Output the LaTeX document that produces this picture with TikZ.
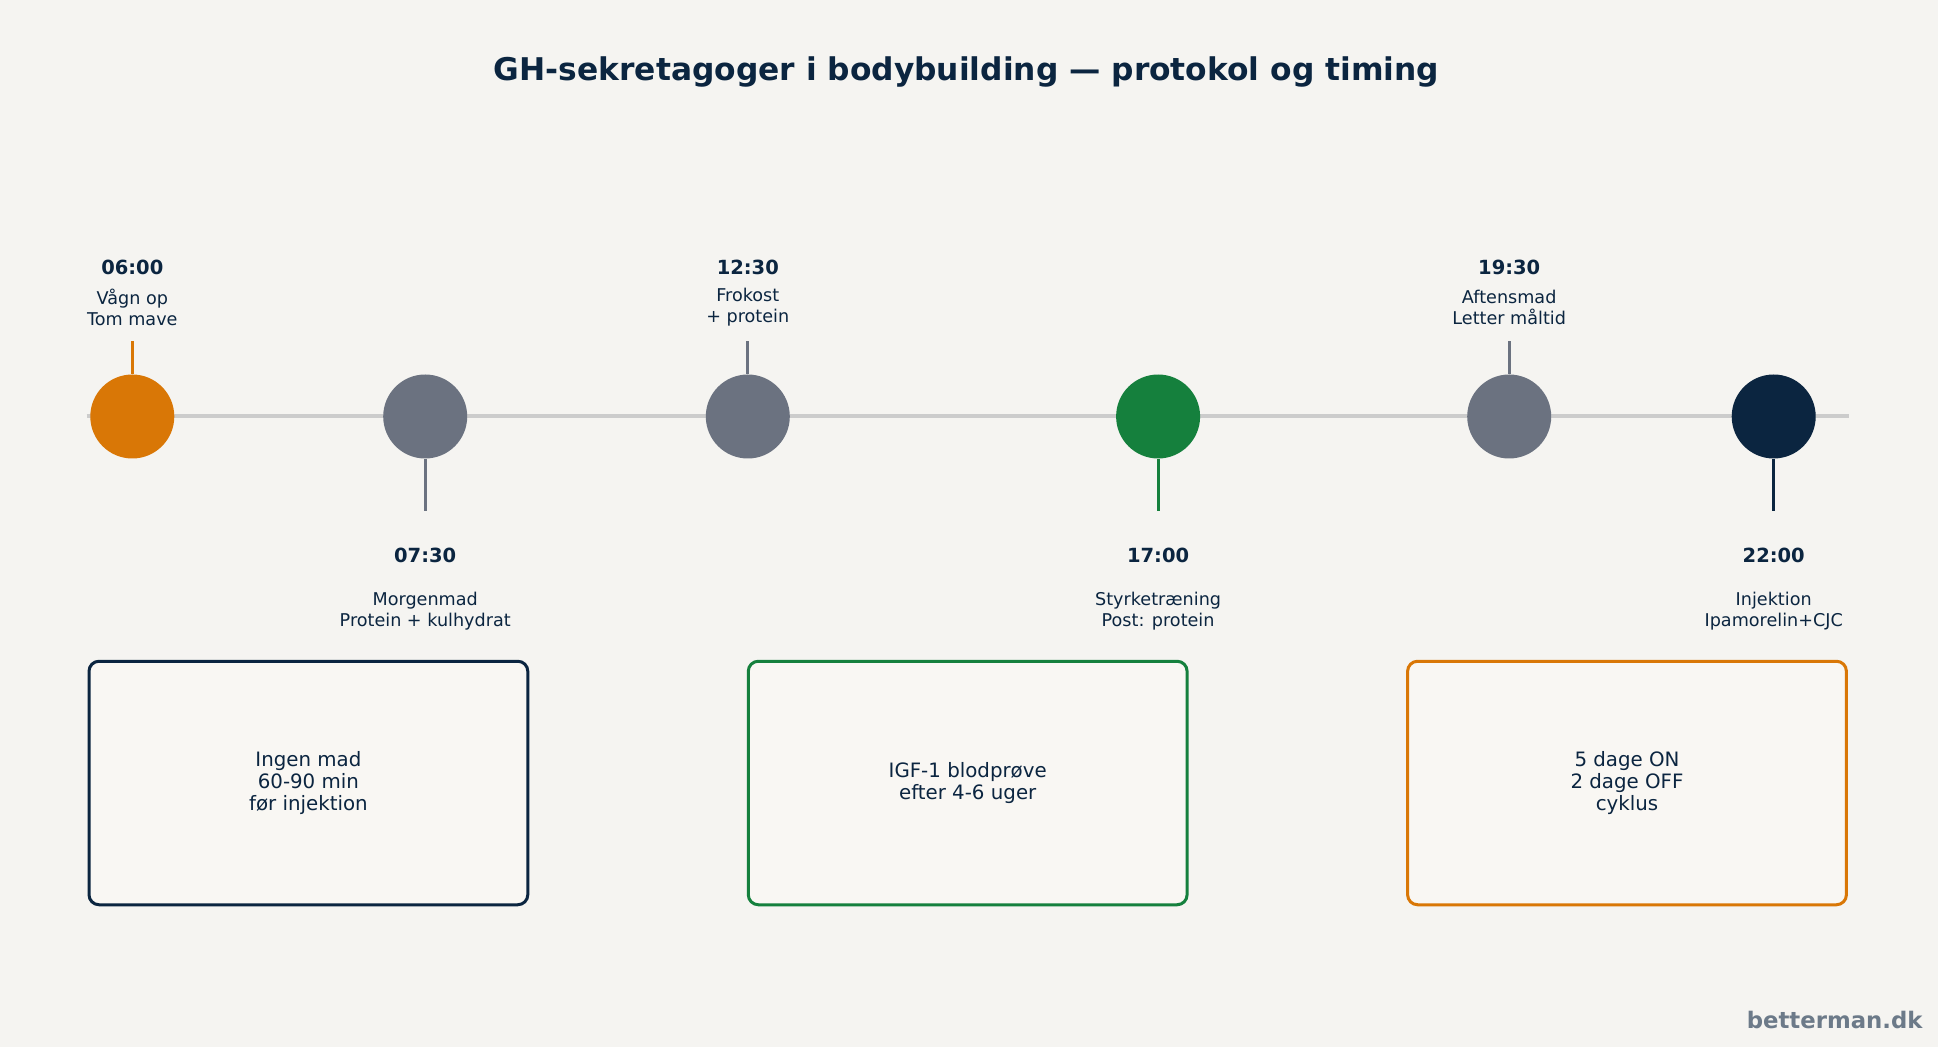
\documentclass[tikz,border=0pt]{standalone}
\usepackage{fontspec}
\setmainfont{DejaVu Sans}
\usepackage{tikz}
\usetikzlibrary{positioning, calc}
\usepackage{xcolor}
\definecolor{paper}{RGB}{245,244,241}
\definecolor{cardbg}{RGB}{249,247,243}
\definecolor{ink}{RGB}{11,37,64}
\definecolor{amber}{RGB}{217,119,6}
\definecolor{slate}{RGB}{107,114,128}
\definecolor{leaf}{RGB}{21,128,61}
\definecolor{railgray}{RGB}{204,204,204}
\definecolor{brandgray}{RGB}{108,122,137}

\begin{document}
\begin{tikzpicture}[x=0.5pt, y=-0.5pt, every node/.style={text=ink},
   dot/.style={circle, inner sep=0pt, minimum size=42pt},
   stem/.style={line width=1.4pt},
   clock/.style={font=\fontsize{9.75}{11}\selectfont\bfseries},
   note/.style={font=\fontsize{8.8}{10.5}\selectfont, align=center},
   card/.style={draw, line width=1.5pt, rounded corners=5pt, fill=cardbg,
                minimum width=219.4pt, minimum height=121.75pt, align=center,
                font=\fontsize{9.9}{10.8}\selectfont}]
  \fill[paper] (0,0) rectangle (1938,1047);

  \node[font=\fontsize{15.65}{18}\selectfont\bfseries] (title) at (966.5,72)
       {GH-sekretagoger i bodybuilding — protokol og timing};

  % timeline
  \coordinate (railL) at (86.5,416.5);
  \coordinate (railR) at (1849,416.5);
  \draw[railgray, line width=2pt] (railL) -- (railR);

  \node[dot, fill=amber] (e1) at (132.3,416.5) {};
  \node[dot, fill=slate] (e2) at (425.2,416.5) {};
  \node[dot, fill=slate] (e3) at (747.8,416.5) {};
  \node[dot, fill=leaf]  (e4) at (1158.1,416.5) {};
  \node[dot, fill=slate] (e5) at (1509.2,416.5) {};
  \node[dot, fill=ink]   (e6) at (1773.7,416.5) {};

  % stems
  \coordinate[above=16.75pt of e1.north] (s1);
  \coordinate[below=26pt of e2.south] (s2);
  \coordinate[above=16.75pt of e3.north] (s3);
  \coordinate[below=26pt of e4.south] (s4);
  \coordinate[above=16.75pt of e5.north] (s5);
  \coordinate[below=26pt of e6.south] (s6);
  \draw[stem, amber] (e1.north) -- (s1);
  \draw[stem, slate] (e2.south) -- (s2);
  \draw[stem, slate] (e3.north) -- (s3);
  \draw[stem, leaf]  (e4.south) -- (s4);
  \draw[stem, slate] (e5.north) -- (s5);
  \draw[stem, ink]   (e6.south) -- (s6);

  % labels above
  \node[clock] (c1) at ($(e1)+(0,-149.5)$) {06:00};
  \node[note]  (n1) at ($(e1)+(0,-109.5)$) {Vågn op\\Tom mave};
  \node[clock] (c3) at ($(e3)+(0,-149.5)$) {12:30};
  \node[note]  (n3) at ($(e3)+(0,-109.5)$) {Frokost\\+ protein};
  \node[clock] (c5) at ($(e5)+(0,-149.5)$) {19:30};
  \node[note]  (n5) at ($(e5)+(0,-109.5)$) {Aftensmad\\Letter måltid};

  % labels below
  \node[clock] (c2) at ($(e2)+(0,138.5)$) {07:30};
  \node[note]  (n2) at ($(e2)+(0,194.7)$) {Morgenmad\\Protein + kulhydrat};
  \node[clock] (c4) at ($(e4)+(0,138.5)$) {17:00};
  \node[note]  (n4) at ($(e4)+(0,194.7)$) {Styrketræning\\Post: protein};
  \node[clock] (c6) at ($(e6)+(0,138.5)$) {22:00};
  \node[note]  (n6) at ($(e6)+(0,194.7)$) {Injektion\\Ipamorelin+CJC};

  % cards
  \node[card, draw=ink] (card1) at (308.4,783) {Ingen mad\\60-90 min\\før injektion};
  \node[card, draw=leaf, right=108.75pt of card1] (card2) {IGF-1 blodprøve\\efter 4-6 uger};
  \node[card, draw=amber, right=108.75pt of card2] (card3) {5 dage ON\\2 dage OFF\\cyklus};

  \node[anchor=east, inner sep=0pt, text=brandgray, font=\fontsize{11.4}{13}\selectfont\bfseries]
       (site) at (1923,1020) {betterman.dk};
\end{tikzpicture}
\end{document}
